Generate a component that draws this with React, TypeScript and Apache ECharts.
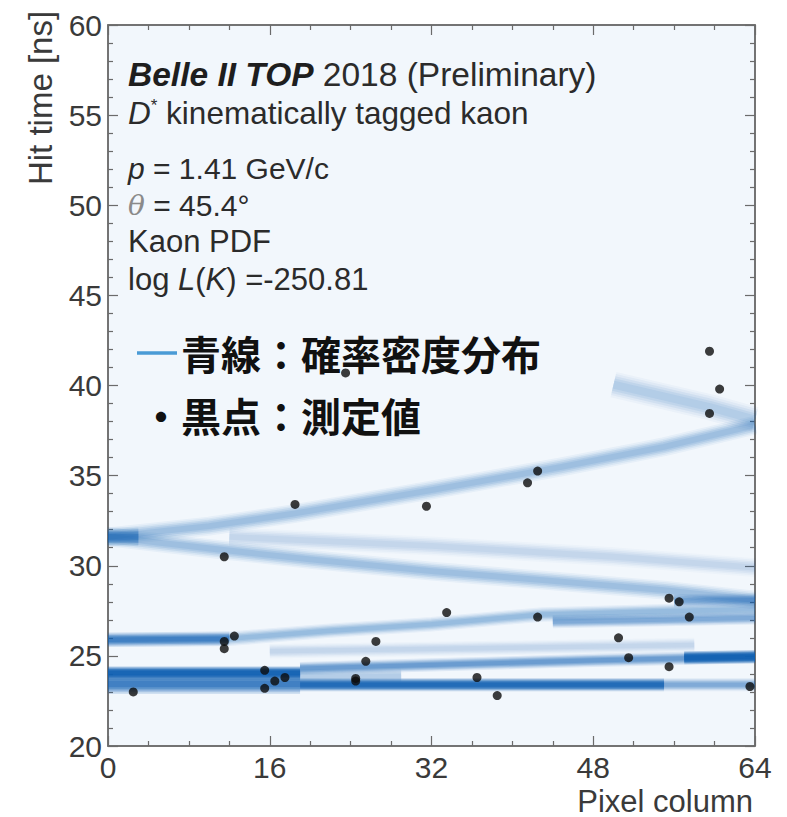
import React, { useEffect, useRef } from "react";
import * as echarts from "echarts";

// Measured hits: pixel column (centre of the column) and hit time in ns
const hitPixel = [
  2.5, 11.5, 11.5, 11.5, 12.5, 15.5, 15.5, 16.5, 17.5, 18.5, 23.5, 24.5, 24.5,
  25.5, 26.5, 31.5, 33.5, 36.5, 38.5, 41.5, 42.5, 42.5, 50.5, 51.5, 55.5, 55.5,
  56.5, 57.5, 59.5, 59.5, 60.5, 63.5,
];
const hitTime = [
  23.0, 30.5, 25.8, 25.4, 26.1, 24.2, 23.2, 23.6, 23.8, 33.4, 40.7, 23.6, 23.75,
  24.7, 25.8, 33.3, 27.4, 23.8, 22.8, 34.6, 35.25, 27.15, 26.0, 24.9, 28.2, 24.4,
  28.0, 27.15, 41.9, 38.45, 39.8, 23.3,
];

// Axis ranges and ticks
const pixelTicks = [0, 16, 32, 48, 64];
const timeTicks = [20, 25, 30, 35, 40, 45, 50, 55, 60];

// Kaon PDF ridges, as [pixel column, hit time] vertices
const pdfApex = [[0, 31.6], [3, 31.6]];
const pdfUpperBranch = [[0, 31.6], [10, 32.2], [18.5, 32.9], [32, 34.2], [45, 35.5], [55, 36.6], [64, 37.8]];
const pdfLowerBranch = [[0, 31.6], [11, 30.9], [20, 30.35], [32, 29.7], [43, 29.2], [55, 28.65], [64, 28.1]];
const pdfMiddleBranch = [[12, 31.6], [22, 31.35], [32, 31.1], [50, 30.5], [64, 29.9]];
const pdfReflection = [[50, 40.05], [59.5, 38.8], [64, 38.1]];
const pdfBand26Start = [[0, 25.9], [12, 25.95]];
const pdfBand26Rise = [[12, 25.95], [22, 26.4], [32, 26.75], [43, 27.3], [53, 27.45], [64, 27.6]];
const pdfBand27Right = [[44, 26.9], [55, 27.0], [64, 27.1]];
const pdfBand28Right = [[56, 28.05], [64, 28.1]];
const pdfBand25Faint = [[16, 25.25], [40, 25.45], [58, 25.6]];
const pdfBand24Dark = [[0, 24.05], [19, 24.05]];
const pdfBand23Wide = [[0, 23.45], [19, 23.45]];
const pdfFloor = [[19, 23.4], [55, 23.4]];
const pdfFloorEnd = [[55, 23.4], [64, 23.4]];
const pdfRising = [[19, 24.3], [32, 24.5], [48, 24.75], [64, 24.95]];
const pdfRisingEnd = [[57, 24.9], [64, 24.95]];
const pdfGap = [[19, 23.85], [29, 23.9]];

const FONT = "'Liberation Sans', Arial, Helvetica, sans-serif";
const CJK = "'Noto Sans CJK JP', 'Noto Sans CJK SC', sans-serif";

// One soft ridge = stacked strokes giving a flat core with feathered edges
function ridge(points: number[][], strength: number, width: number) {
  const layers = [
    [1.45, 0.1],
    [1.2, 0.14],
    [0.95, 0.2],
    [0.7, 0.22],
    [0.45, 0.2],
  ];
  return layers.map(([wk, ak]) => ({
    type: "line",
    data: points,
    showSymbol: false,
    silent: true,
    clip: true,
    z: 2,
    emphasis: { disabled: true },
    lineStyle: {
      width: width * wk,
      color: `rgba(16, 96, 178, ${Math.min(1, strength * ak)})`,
      cap: "butt",
      join: "round",
    },
  }));
}

export default function App() {
  const ref = useRef<HTMLDivElement>(null);

  useEffect(() => {
    if (!ref.current) return;
    const chart = echarts.init(ref.current, null, { renderer: "svg" });

    const hits = hitPixel.map((c, i) => [c, hitTime[i]]);

    const pdfSeries = [
      ...ridge(pdfMiddleBranch, 0.25, 13),
      ...ridge(pdfBand25Faint, 0.25, 10),
      ...ridge(pdfReflection, 0.36, 18),
      ...ridge(pdfUpperBranch, 0.5, 13),
      ...ridge(pdfLowerBranch, 0.5, 13),
      ...ridge(pdfApex, 0.9, 13),
      ...ridge(pdfBand26Start, 1.5, 10),
      ...ridge(pdfBand26Rise, 0.55, 10),
      ...ridge(pdfBand27Right, 0.75, 9),
      ...ridge(pdfBand28Right, 0.75, 9),
      ...ridge(pdfGap, 0.35, 10),
      ...ridge(pdfBand23Wide, 1.5, 14),
      ...ridge(pdfBand24Dark, 2.6, 9),
      ...ridge(pdfFloor, 2.2, 9),
      ...ridge(pdfFloorEnd, 0.75, 9),
      ...ridge(pdfRising, 0.95, 9),
      ...ridge(pdfRisingEnd, 2.5, 9),
    ];

    const axisColor = "#6b6b6b";
    const tickLabel = { color: "#3a3a3a", fontSize: 30, fontFamily: FONT };

    const xBase = {
      type: "value",
      min: pixelTicks[0],
      max: pixelTicks[pixelTicks.length - 1],
      interval: pixelTicks[1] - pixelTicks[0],
      splitLine: { show: false },
      axisLine: { show: true, onZero: false, lineStyle: { color: axisColor, width: 1.5 } },
      axisTick: { show: true, inside: true, length: 10, lineStyle: { color: axisColor, width: 1.2 } },
      minorTick: { show: true, splitNumber: 4, length: 5, lineStyle: { color: axisColor, width: 1.2 } },
      minorSplitLine: { show: false },
    };
    const yBase = {
      type: "value",
      min: timeTicks[0],
      max: timeTicks[timeTicks.length - 1],
      interval: timeTicks[1] - timeTicks[0],
      splitLine: { show: false },
      axisLine: { show: true, onZero: false, lineStyle: { color: axisColor, width: 1.5 } },
      axisTick: { show: true, inside: true, length: 10, lineStyle: { color: axisColor, width: 1.2 } },
      minorTick: { show: true, splitNumber: 5, length: 5, lineStyle: { color: axisColor, width: 1.2 } },
      minorSplitLine: { show: false },
    };

    const textColor = "#2b2b2b";
    const annoRich = (size: number) => ({
      bi: { fontFamily: FONT, fontSize: size, fontWeight: "bold", fontStyle: "italic", fill: "#1e1e1e" },
      i: { fontFamily: FONT, fontSize: size, fontStyle: "italic", fill: textColor },
      sup: { fontFamily: FONT, fontSize: 17, fill: textColor, verticalAlign: "top" },
      th: { fontFamily: "'DejaVu Serif', serif", fontSize: size - 2, fontStyle: "italic", fill: "#8a8a8a" },
    });
    const annoLine = (text: string, y: number, size: number) => ({
      type: "text",
      x: 128,
      y,
      z: 20,
      silent: true,
      style: {
        text,
        fontFamily: FONT,
        fontSize: size,
        fill: textColor,
        align: "left",
        verticalAlign: "middle",
        rich: annoRich(size),
      },
    });

    chart.setOption({
      animation: false,
      backgroundColor: "#ffffff",
      grid: {
        left: 108,
        top: 25,
        right: 32,
        bottom: 71,
        show: true,
        backgroundColor: "#f2f7fc",
        borderColor: axisColor,
        borderWidth: 1.5,
        outerBoundsMode: "none",
        containLabel: false,
      },
      xAxis: [
        {
          ...xBase,
          position: "bottom",
          axisLabel: { ...tickLabel, margin: 6, showMinLabel: true, showMaxLabel: true },
        },
        { ...xBase, position: "top", axisLabel: { show: false } },
      ],
      yAxis: [
        {
          ...yBase,
          position: "left",
          axisLabel: { ...tickLabel, margin: 6, showMinLabel: true, showMaxLabel: true },
        },
        { ...yBase, position: "right", axisLabel: { show: false } },
      ],
      series: [
        ...pdfSeries,
        {
          type: "scatter",
          data: hits,
          symbol: "circle",
          symbolSize: 9,
          silent: true,
          z: 10,
          itemStyle: { color: "#0b0b0b" },
          emphasis: { disabled: true },
        },
      ],
      graphic: [
        annoLine("{bi|Belle II TOP} 2018 (Preliminary)", 74, 33.5),
        annoLine("{i|D}{sup|*} kinematically tagged kaon", 113, 31.5),
        annoLine("{i|p} = 1.41 GeV/c", 168, 30),
        annoLine("{th|θ} = 45.4°", 205, 30),
        annoLine("Kaon PDF", 241, 31),
        annoLine("log {i|L}({i|K}) =-250.81", 279, 31),
        {
          type: "line",
          z: 20,
          silent: true,
          shape: { x1: 137, y1: 353, x2: 177, y2: 353 },
          style: { stroke: "#4a9bd6", lineWidth: 3.5 },
        },
        {
          type: "text",
          x: 181,
          y: 353,
          z: 20,
          silent: true,
          style: {
            text: "青線：確率密度分布",
            fontFamily: CJK,
            fontSize: 40,
            fontWeight: "bold",
            fill: "#111111",
            align: "left",
            verticalAlign: "middle",
          },
        },
        {
          type: "text",
          x: 141,
          y: 415,
          z: 20,
          silent: true,
          style: {
            text: "・黒点：測定値",
            fontFamily: CJK,
            fontSize: 40,
            fontWeight: "bold",
            fill: "#111111",
            align: "left",
            verticalAlign: "middle",
          },
        },
        {
          type: "text",
          x: 40,
          y: 98,
          rotation: Math.PI / 2,
          silent: true,
          style: {
            text: "Hit time [ns]",
            fontFamily: FONT,
            fontSize: 33,
            fill: "#3a3a3a",
            align: "center",
            verticalAlign: "middle",
          },
        },
        {
          type: "text",
          x: 753,
          y: 801,
          silent: true,
          style: {
            text: "Pixel column",
            fontFamily: FONT,
            fontSize: 31,
            fill: "#3a3a3a",
            align: "right",
            verticalAlign: "middle",
          },
        },
      ],
    });

    return () => chart.dispose();
  }, []);

  return (
    <div
      ref={ref}
      style={{ position: "absolute", left: 0, top: 0, width: 787, height: 817, background: "#fff" }}
    />
  );
}
